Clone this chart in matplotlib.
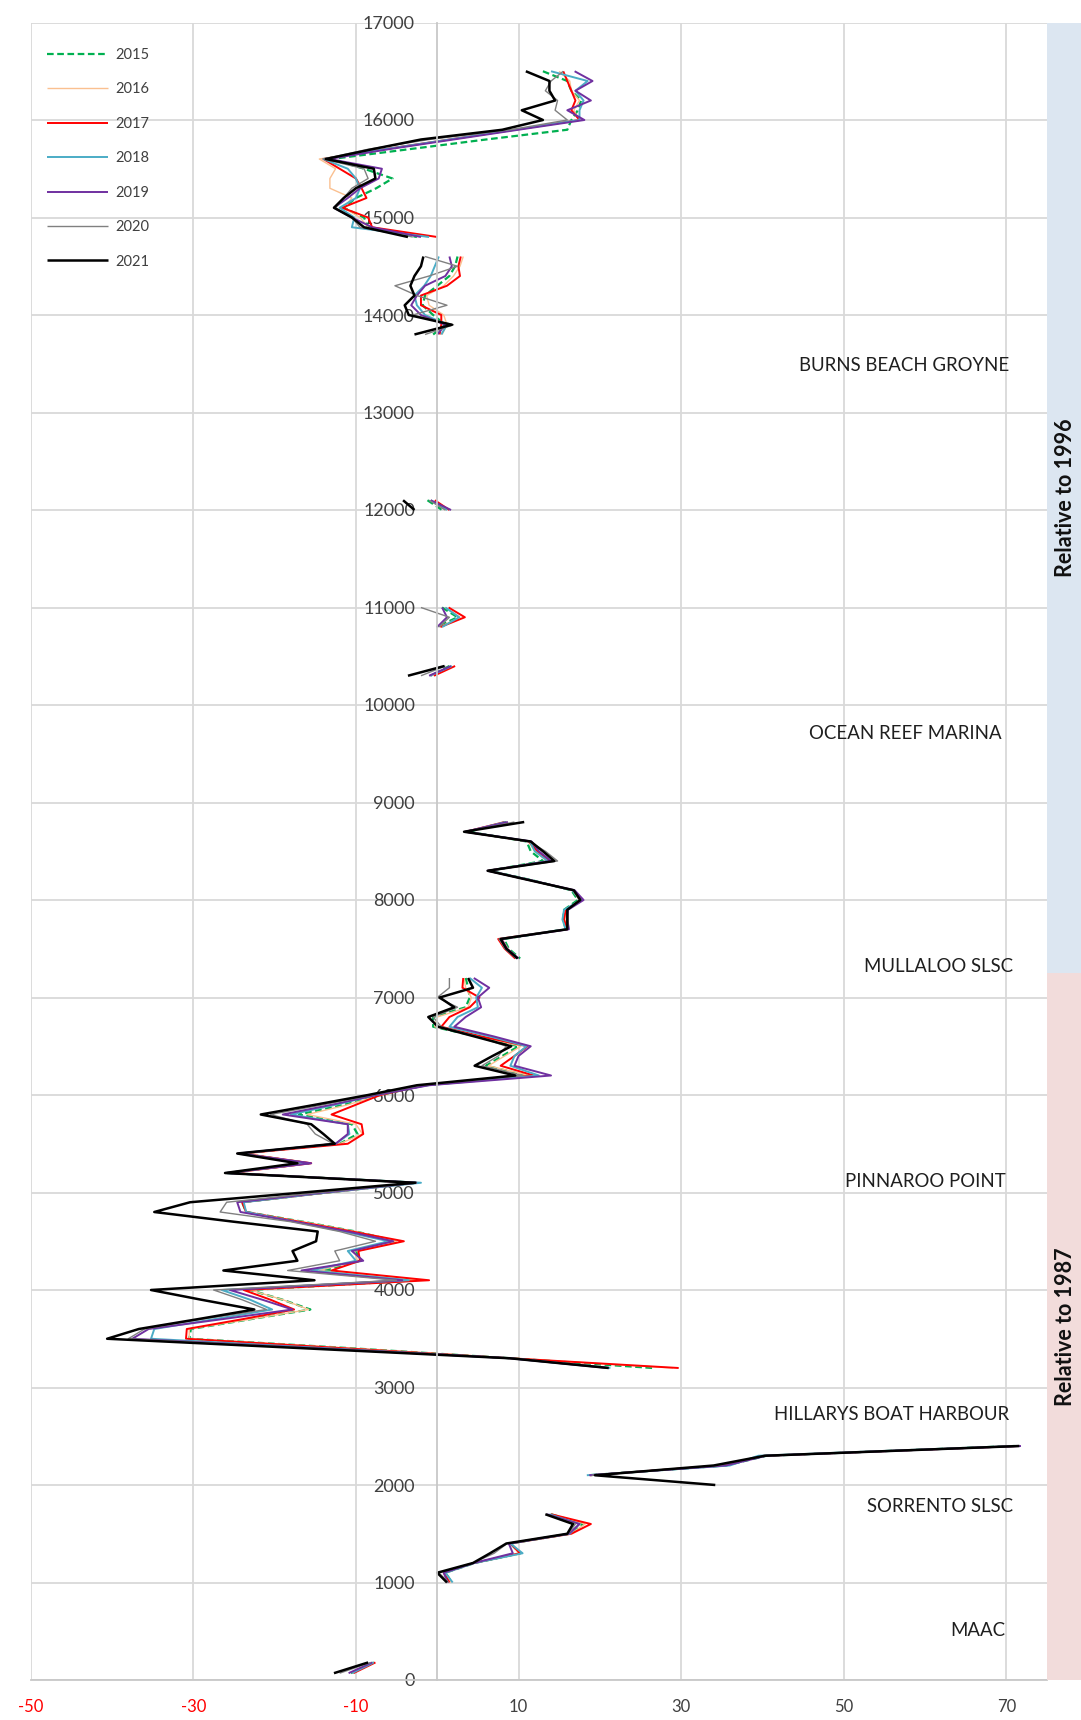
import numpy as np
import matplotlib
matplotlib.use("Agg")
import matplotlib.pyplot as plt
from matplotlib.patches import Rectangle

nan = np.nan
FONT = ["Lato", "DejaVu Sans"]
plt.rcParams["font.family"] = FONT

# ---------------- data ----------------
# chainage (m) of each profile; nan separates the surveyed sections
chainage = [
    16500, 16400, 16300, 16200, 16100, 16000, 15900, 15800, 15700, 15600, 15500, 15400, 15300, 15200, 15100, 15000, 14900, 14800, nan,
    14600, 14500, 14400, 14300, 14200, 14100, 14000, 13900, 13800, nan,
    12100, 12000, nan,
    11000, 10900, 10800, nan,
    10400, 10300, nan,
    8800, 8700, 8600, 8500, 8400, 8300, 8200, 8100, 8000, 7900, 7800, 7700, 7600, 7500, 7400, nan,
    7200, 7100, 7000, 6900, 6800, 6700, 6600, 6500, 6400, 6300, 6200, 6100, 6000, 5900, 5800, 5700, 5600, 5500, 5400, 5300, 5200,
    5100, 5000, 4900, 4800, 4700, 4600, 4500, 4400, 4300, 4200, 4100, 4000, 3900, 3800, 3700, 3600, 3500, 3400, 3300, 3200, nan,
    2400, 2300, 2200, 2100, 2000, nan,
    1700, 1600, 1500, 1400, 1300, 1200, 1100, 1000, nan,
    180, 70,
]

v2015 = [
    13.0, 16.0, 16.5, 17.7, 17.3, 16.5, 16.0, 6.0, -3.5, -13.0, -9.0, -5.5, -7.5, -10.0, -11.5, -9.0, -8.5, -2.5, nan,
    2.5, 2.2, 1.5, 0.0, -1.5, -1.8, -0.5, 1.0, -0.5, nan,
    -1.2, 0.6, nan,
    0.6, 2.5, -0.1, nan,
    1.5, -0.8, nan,
    8.5, 3.8, 11.0, 11.5, 13.0, 6.4, 11.8, 16.5, 17.3, 15.6, 15.5, 15.8, 8.2, 8.8, 10.2, nan,
    3.5, 3.8, 4.0, 3.5, -0.5, -0.5, 5.0, 10.0, 8.0, 6.0, 11.0, -1.5, -7.0, -11.5, -17.0, -10.5, -9.8, -12.0, -24.2, -15.8, -25.8,
    -2.5, -13.5, -24.0, -23.5, -16.5, -10.0, -5.0, -10.0, -9.5, -14.0, -2.5, -23.0, -19.0, -15.6, -23.0, -30.3, -30.5, -10.0, 9.0, 26.5, nan,
    71.0, 40.5, 35.5, 18.6, nan, nan,
    14.0, 18.0, 16.3, 9.0, 10.2, 4.6, 1.0, 1.8, nan,
    -7.8, -10.6,
]

v2016 = [
    15.0, 16.3, 16.5, 17.5, 16.8, 17.5, 9.5, 1.5, -6.5, -14.5, -12.5, -13.2, -13.2, -10.5, -11.5, -9.5, -8.5, -1.0, nan,
    3.2, 2.8, 2.0, 0.8, -1.3, -1.0, 0.8, 1.2, 0.6, nan,
    -0.8, 1.0, nan,
    1.0, 2.8, 0.3, nan,
    1.8, -0.6, nan,
    8.6, 3.6, 11.2, 12.0, 13.5, 6.3, 11.7, 16.6, 17.5, 15.8, 15.7, 15.9, 8.0, 8.7, 10.0, nan,
    3.3, 3.5, 4.2, 3.8, 0.0, -0.3, 5.2, 10.3, 8.3, 6.3, 11.3, -1.5, -7.0, -11.0, -16.0, -10.0, -9.2, -12.0, -24.0, -15.5, -25.7,
    -2.4, -13.3, -23.8, -23.6, -16.5, -10.0, -5.0, -10.2, -9.8, -14.5, -2.0, -23.0, -19.0, -15.8, -23.0, -30.5, -30.5, -10.0, 9.2, 29.0, nan,
    71.2, 40.0, 35.3, 18.8, nan, nan,
    14.0, 18.2, 16.4, 9.1, 10.0, 4.6, 1.0, 1.7, nan,
    -7.7, -10.5,
]

v2017 = [
    15.5, 16.0, 16.5, 17.0, 16.5, 17.5, 9.5, 1.5, -6.5, -14.0, -12.0, -10.0, -9.3, -8.7, -11.7, -8.5, -8.0, 0.0, nan,
    2.9, 2.6, 2.8, 1.2, -2.0, -2.0, 0.5, 0.5, 0.3, nan,
    -0.3, 1.5, nan,
    1.4, 3.4, 0.4, nan,
    2.2, -0.4, nan,
    8.3, 3.5, 11.3, 12.3, 13.8, 6.3, 11.6, 16.7, 17.8, 15.8, 15.6, 16.0, 7.5, 8.3, 9.6, nan,
    3.2, 3.1, 5.2, 4.0, 1.5, 0.5, 5.5, 11.1, 9.5, 7.8, 11.9, -1.5, -7.0, -10.0, -13.0, -9.3, -9.1, -11.0, -24.0, -15.5, -25.5,
    -2.5, -13.5, -24.0, -23.5, -17.0, -10.5, -4.1, -9.7, -9.5, -13.0, -1.0, -23.8, -20.5, -17.6, -24.0, -30.8, -30.9, -11.0, 9.0, 29.7, nan,
    71.5, 40.2, 35.0, 18.8, nan, nan,
    14.0, 18.9, 16.5, 9.0, 10.2, 4.5, 0.8, 1.5, nan,
    -7.6, -10.3,
]

v2018 = [
    14.0, 18.5, 17.0, 18.0, 17.5, 17.5, 9.5, 1.5, -6.5, -14.0, -11.0, -10.0, -9.5, -10.0, -12.0, -10.2, -10.5, -1.0, nan,
    0.2, -0.3, -0.8, -1.6, -2.8, -2.5, -1.5, 1.2, 0.5, nan,
    -0.8, 1.2, nan,
    1.0, 2.7, 0.6, nan,
    1.8, -0.9, nan,
    8.4, 3.6, 11.4, 12.0, 13.6, 6.4, 11.7, 16.6, 17.7, 15.6, 15.4, 15.8, 7.7, 8.4, 9.8, nan,
    4.0, 5.5, 4.8, 5.0, 2.5, 1.5, 6.5, 11.0, 9.5, 9.0, 12.5, -1.2, -7.5, -12.5, -18.0, -11.0, -10.8, -12.5, -24.3, -15.8, -25.8,
    -2.0, -13.5, -23.8, -23.5, -17.5, -11.5, -6.0, -11.0, -10.0, -15.5, -3.5, -26.5, -23.0, -20.3, -27.5, -34.8, -35.2, -13.0, 9.0, 21.3, nan,
    71.0, 39.5, 36.0, 18.4, nan, nan,
    13.8, 17.5, 16.3, 9.0, 10.5, 4.6, 1.0, 1.9, nan,
    -7.8, -10.5,
]

v2019 = [
    16.9, 19.1, 17.0, 18.9, 16.0, 18.1, 10.0, 2.0, -6.0, -13.3, -6.8, -7.2, -9.5, -11.0, -12.7, -10.5, -8.0, -2.0, nan,
    1.5, 1.8, 1.0, -1.5, -2.5, -3.2, -2.0, 1.0, 0.0, nan,
    -0.8, 1.7, nan,
    0.6, 1.2, 0.0, nan,
    1.7, -1.0, nan,
    8.7, 3.4, 11.6, 12.5, 14.0, 6.2, 11.6, 16.9, 18.0, 16.1, 16.0, 16.2, 7.9, 8.6, 10.0, nan,
    4.5, 6.4, 5.0, 5.4, 3.5, 2.1, 7.0, 11.5, 10.0, 9.5, 14.0, -1.0, -7.5, -13.0, -19.0, -11.0, -11.0, -12.5, -24.5, -15.5, -26.0,
    -2.6, -14.0, -24.6, -24.2, -17.5, -11.0, -5.4, -10.5, -9.1, -16.7, -4.3, -25.5, -21.5, -17.8, -26.5, -35.5, -37.5, -14.0, 8.9, 21.0, nan,
    71.8, 40.5, 35.5, 18.7, nan, nan,
    13.5, 17.5, 16.2, 8.8, 9.3, 4.5, 0.8, 1.3, nan,
    -8.0, -10.9,
]

v2020 = [
    15.5, 14.0, 13.3, 14.8, 14.5, 16.0, 9.0, -1.0, -8.5, -14.0, -9.0, -8.5, -10.5, -11.5, -12.5, -10.5, -9.5, -3.0, nan,
    -1.5, 2.5, -1.0, -5.2, -2.5, 1.2, -3.0, 2.0, -1.5, nan,
    -1.0, 1.0, nan,
    -2.0, 1.5, 0.2, nan,
    1.0, -2.0, nan,
    9.5, 3.4, 11.3, 13.3, 14.8, 6.3, 11.5, 16.7, 17.5, 16.0, 16.1, 16.0, 7.6, 8.5, 9.8, nan,
    1.5, 1.5, 0.0, 2.5, -0.5, 0.5, 5.0, 8.5, 7.5, 5.5, 10.5, -2.0, -8.0, -14.0, -20.5, -16.0, -15.0, -12.8, -24.5, -17.0, -26.0,
    -2.6, -14.5, -25.9, -26.7, -18.0, -12.0, -7.6, -12.6, -12.0, -18.4, -5.0, -27.5, -24.0, -21.0, -29.0, -36.0, -38.0, -14.5, 8.9, 21.0, nan,
    71.3, 40.3, 34.5, 19.0, nan, nan,
    13.4, 17.0, 16.1, 8.6, 7.0, 4.4, 0.2, 1.4, nan,
    -8.2, -12.0,
]

v2021 = [
    10.9, 13.8, 13.8, 14.5, 10.4, 13.0, 8.0, -2.0, -8.0, -13.7, -7.8, -7.6, -10.0, -11.5, -12.7, -10.5, -9.0, -3.6, nan,
    -1.7, -2.0, -2.8, -3.3, -2.8, -4.0, -3.5, 1.8, -2.8, nan,
    -4.2, -2.8, nan,
    nan, nan, nan, nan,
    0.9, -3.6, nan,
    10.7, 3.3, 11.5, 13.0, 14.4, 6.2, 11.5, 16.8, 17.6, 16.0, 16.0, 16.0, 7.8, 8.5, 9.9, nan,
    3.8, 4.4, 0.3, 2.1, -1.1, 0.1, 4.6, 9.1, 6.8, 4.6, 9.6, -2.5, -8.5, -15.0, -21.7, -15.5, -14.0, -12.6, -24.6, -17.2, -26.1,
    -2.7, -16.5, -30.4, -34.8, -25.0, -14.7, -14.9, -17.8, -17.2, -26.3, -15.1, -35.2, -29.0, -22.5, -29.5, -36.7, -40.6, -15.8, 8.9, 21.1, nan,
    71.6, 40.3, 34.0, 19.4, 34.2, nan,
    13.3, 16.7, 16.0, 8.5, 6.5, 4.4, 0.0, 1.2, nan,
    -8.5, -12.7,
]

years = ["2015", "2016", "2017", "2018", "2019", "2020", "2021"]
series = [v2015, v2016, v2017, v2018, v2019, v2020, v2021]

x_ticks = [-50, -30, -10, 10, 30, 50, 70]
y_ticks = [0, 1000, 2000, 3000, 4000, 5000, 6000, 7000, 8000, 9000, 10000,
           11000, 12000, 13000, 14000, 15000, 16000, 17000]

locations = ["BURNS BEACH GROYNE", "OCEAN REEF MARINA", "MULLALOO SLSC",
             "PINNAROO POINT", "HILLARYS BOAT HARBOUR", "SORRENTO SLSC", "MAAC"]
location_chainage = [13480, 9710, 7320, 5110, 2725, 1778, 505]

band_labels = ["Relative to 1996", "Relative to 1987"]
band_split = 7250

# ---------------- styles ----------------
styles = [
    dict(color="#00B050", lw=1.6, ls=(0, (3, 1.6))),
    dict(color="#FAC090", lw=1.0, ls="-"),
    dict(color="#FF0000", lw=1.4, ls="-"),
    dict(color="#4BACC6", lw=1.4, ls="-"),
    dict(color="#7030A0", lw=1.4, ls="-"),
    dict(color="#808080", lw=1.0, ls="-"),
    dict(color="#000000", lw=1.8, ls="-"),
]
loc_right = [70.3, 69.4, 70.8, 69.9, 70.3, 70.8, 69.9]

W, H = 1081, 1720
fig = plt.figure(figsize=(W / 100, H / 100), dpi=100)
left, right = 30.7 / W, 1047 / W
bottom, top = 1 - 1680 / H, 1 - 22.5 / H
ax = fig.add_axes([left, bottom, right - left, top - bottom])

ych = np.array(chainage, dtype=float)
for yr, vals, st in zip(years, series, styles):
    ax.plot(np.array(vals, dtype=float), ych, label=yr, solid_capstyle="butt",
            dash_capstyle="butt", **st)

ax.set_xlim(-50, 75)
ax.set_ylim(0, 17000)
ax.set_xticks(x_ticks)
ax.set_yticks(y_ticks)
ax.grid(True, color="#D9D9D9", lw=1.3)
ax.set_axisbelow(True)

for s in ["top", "right"]:
    ax.spines[s].set_visible(False)
ax.spines["left"].set_position(("data", 0))
ax.spines["left"].set_color("#C8C8C8")
ax.spines["left"].set_linewidth(1.3)
ax.spines["bottom"].set_color("#C8C8C8")
ax.spines["bottom"].set_linewidth(1.3)

ax.tick_params(axis="both", length=0)
ax.tick_params(axis="y", pad=16, labelsize=13, labelcolor="#404040")
ax.tick_params(axis="x", pad=14, labelsize=12)
ax.set_xticklabels([str(t) for t in x_ticks])
for lab, t in zip(ax.get_xticklabels(), x_ticks):
    lab.set_color("#FF0000" if t < 0 else "#404040")
ax.set_yticklabels([str(t) for t in y_ticks])

for name, yv, xr in zip(locations, location_chainage, loc_right):
    ax.text(xr, yv, name, ha="right", va="center", fontsize=13.4, color="#1F1F1F")

leg = ax.legend(loc="upper left", bbox_to_anchor=(47 / W, 1 - 48 / H),
                bbox_transform=fig.transFigure, frameon=False, fontsize=10.5,
                handlelength=4.2, handletextpad=0.5, labelspacing=1.40,
                borderpad=0, borderaxespad=0)
for t in leg.get_texts():
    t.set_color("#404040")

# side band
bax = fig.add_axes([right, bottom, 1 - right, top - bottom])
bax.set_xlim(0, 1)
bax.set_ylim(0, 17000)
bax.add_patch(Rectangle((0, band_split), 1, 17000 - band_split, color="#DCE6F1", lw=0))
bax.add_patch(Rectangle((0, 0), 1, band_split, color="#F2DCDB", lw=0))
bax.text(0.55, (17000 + band_split) / 2, band_labels[0], rotation=90, ha="center",
         va="center", fontsize=15.5, fontweight="bold", color="#111111")
bax.text(0.55, band_split / 2, band_labels[1], rotation=90, ha="center",
         va="center", fontsize=15.5, fontweight="bold", color="#111111")
bax.axis("off")

fig.savefig("out.png", dpi=100, facecolor="white")
